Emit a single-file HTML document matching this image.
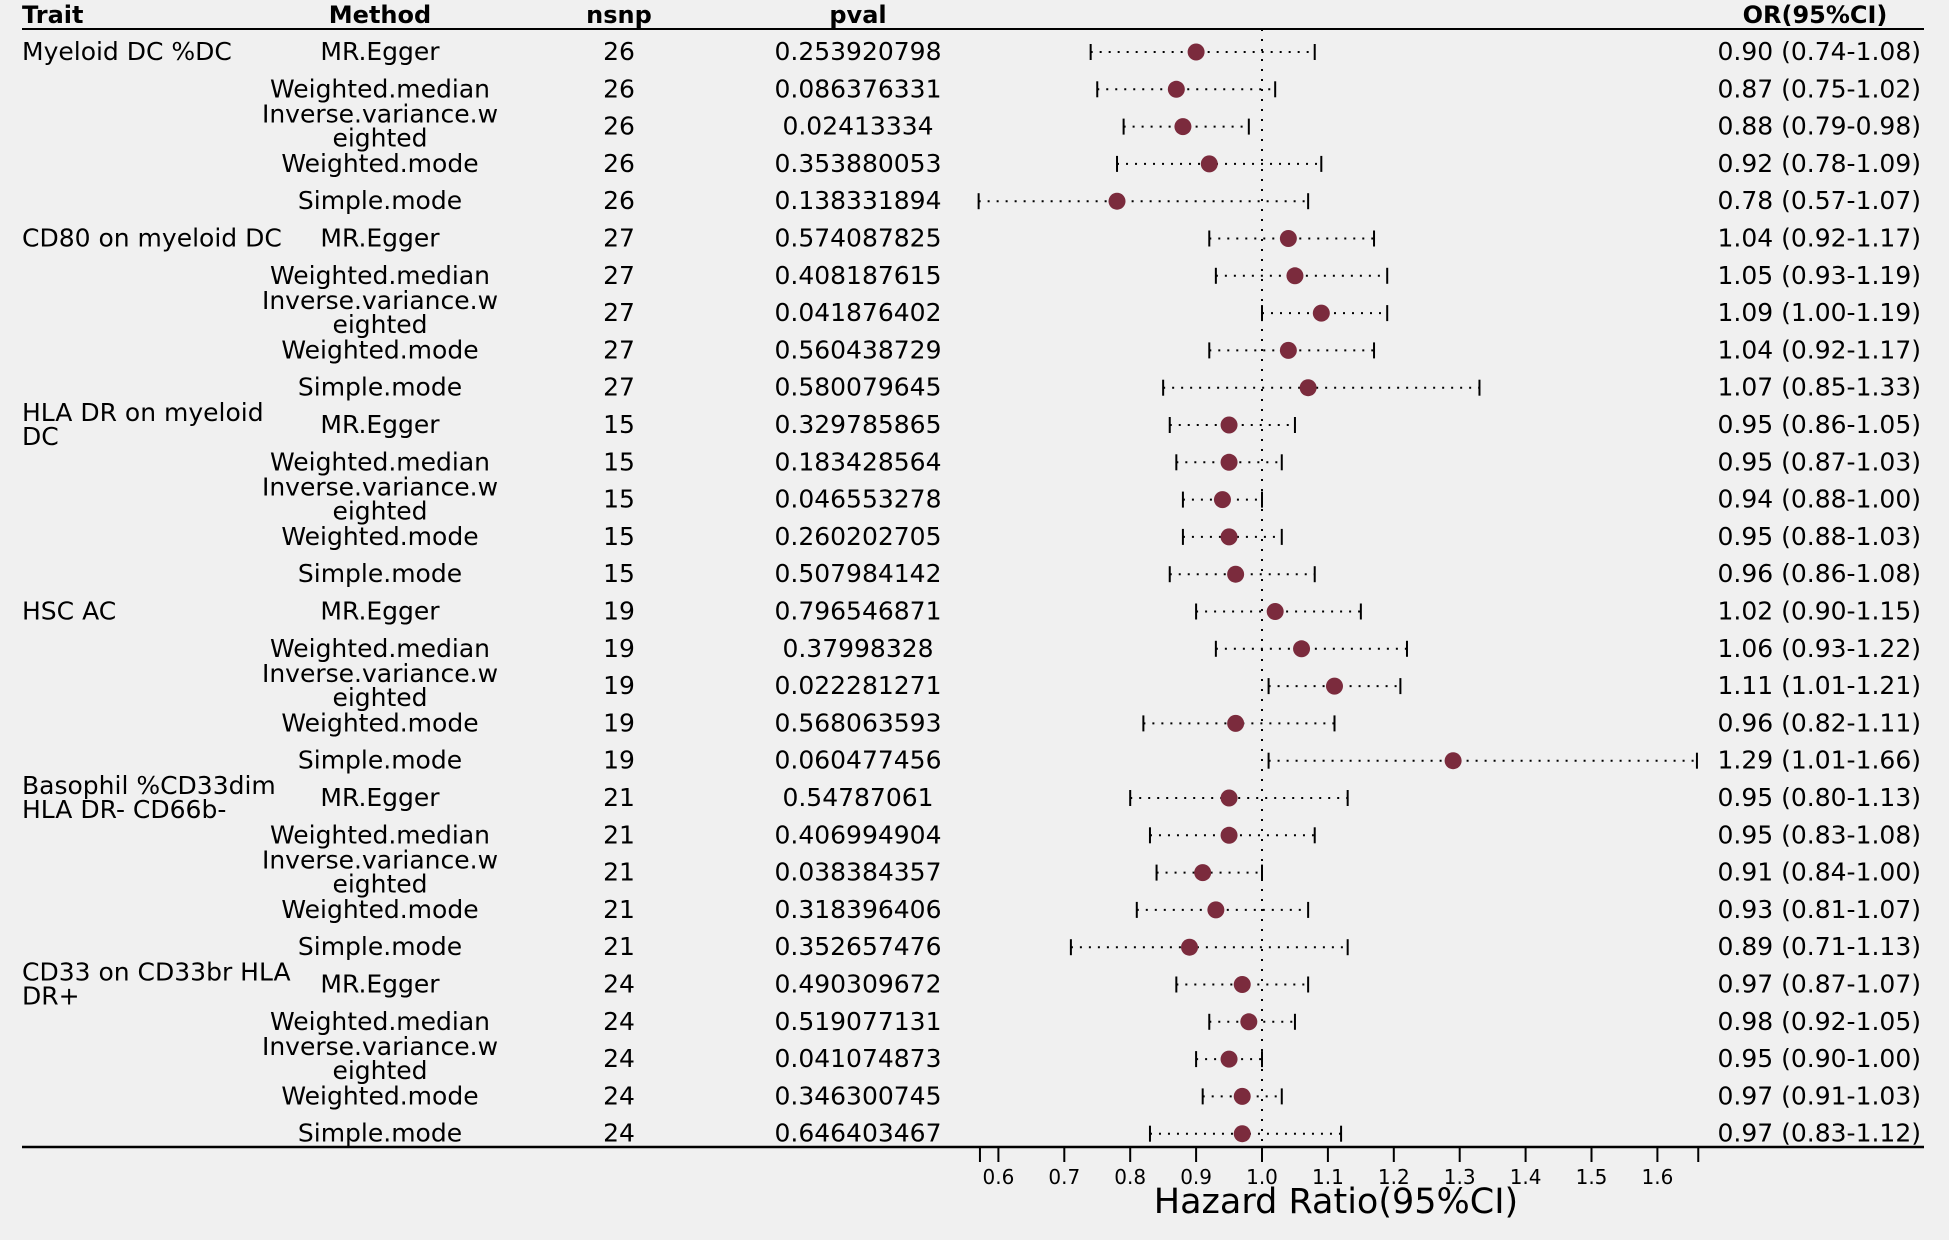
<!DOCTYPE html>
<html><head><meta charset="utf-8"><style>
html,body{margin:0;padding:0;background:#f0f0f0;}
svg{display:block;font-family:"DejaVu Sans","Liberation Sans",sans-serif;}
</style></head><body>
<svg id="chart" width="1949" height="1240" viewBox="0 0 1949 1240" xmlns="http://www.w3.org/2000/svg">
<rect width="1949" height="1240" fill="#f0f0f0"/>
<g id="hdr" font-weight="bold" font-size="24" fill="#000">
<text x="22" y="23">Trait</text>
<text x="380" y="23" text-anchor="middle">Method</text>
<text x="619" y="23" text-anchor="middle">nsnp</text>
<text x="858" y="23" text-anchor="middle">pval</text>
<text x="1815" y="23" text-anchor="middle">OR(95%CI)</text>
</g>
<line x1="22" y1="29" x2="1924" y2="29" stroke="#000" stroke-width="2"/>
<line x1="22" y1="1147" x2="1924" y2="1147" stroke="#000" stroke-width="2.5"/>
<g id="rows"></g>
<g id="axis"></g>
<text x="1336" y="1213" text-anchor="middle" font-size="35">Hazard Ratio(95%CI)</text>
</svg>
<script>
const traits = [["Myeloid DC %DC"],["CD80 on myeloid DC"],["HLA DR on myeloid","DC"],["HSC AC"],["Basophil %CD33dim","HLA DR- CD66b-"],["CD33 on CD33br HLA"," DR+"]];
const methods = ["MR.Egger","Weighted.median","Inverse.variance.w|eighted","Weighted.mode","Simple.mode"];
const nsnp = [26,27,15,19,21,24];
const pvals = ["0.253920798","0.086376331","0.02413334","0.353880053","0.138331894",
"0.574087825","0.408187615","0.041876402","0.560438729","0.580079645",
"0.329785865","0.183428564","0.046553278","0.260202705","0.507984142",
"0.796546871","0.37998328","0.022281271","0.568063593","0.060477456",
"0.54787061","0.406994904","0.038384357","0.318396406","0.352657476",
"0.490309672","0.519077131","0.041074873","0.346300745","0.646403467"];
const orv = [0.90,0.87,0.88,0.92,0.78, 1.04,1.05,1.09,1.04,1.07, 0.95,0.95,0.94,0.95,0.96, 1.02,1.06,1.11,0.96,1.29, 0.95,0.95,0.91,0.93,0.89, 0.97,0.98,0.95,0.97,0.97];
const lo = [0.74,0.75,0.79,0.78,0.57, 0.92,0.93,1.00,0.92,0.85, 0.86,0.87,0.88,0.88,0.86, 0.90,0.93,1.01,0.82,1.01, 0.80,0.83,0.84,0.81,0.71, 0.87,0.92,0.90,0.91,0.83];
const hi = [1.08,1.02,0.98,1.09,1.07, 1.17,1.19,1.19,1.17,1.33, 1.05,1.03,1.00,1.03,1.08, 1.15,1.22,1.21,1.11,1.66, 1.13,1.08,1.00,1.07,1.13, 1.07,1.05,1.00,1.03,1.12];
const ticks = [0.6,0.7,0.8,0.9,1.0,1.1,1.2,1.3,1.4,1.5,1.6];
const axisMin = 0.572, axisMax = 1.662;

const NS="http://www.w3.org/2000/svg";
const xs = v => 1262 + (v-1)*659;
const ys = i => 52 + i*37.3;
const rows=document.getElementById('rows'), axis=document.getElementById('axis');
function mk(tag, attrs, parent, txt){const e=document.createElementNS(NS,tag);for(const k in attrs)e.setAttribute(k,attrs[k]);if(txt!==undefined)e.textContent=txt;parent.appendChild(e);return e;}
const ref=mk('line',{x1:xs(1),y1:29,x2:xs(1),y2:1147,stroke:'#000','stroke-width':2,'stroke-dasharray':'2 8'},rows);


for(let i=0;i<30;i++){
  const y=ys(i), t=Math.floor(i/5), m=i%5;
  const g=mk('g',{'font-size':25,fill:'#000'},rows);
  
  
  if(m===0){
    const tl=traits[t];
    tl.forEach((s,k)=>{const e=mk('text',{x:22,y:(tl.length===1?y+8:y-4+k*24),'xml:space':'preserve'},g,s);
      
      });
  }
  const mp=methods[m].split('|');
  mp.forEach((s,k)=>{const e=mk('text',{x:380,y:(mp.length===1?y+8:y-4+k*24),'text-anchor':'middle'},g,s);
    
    });
  const n=mk('text',{x:619,y:y+8,'text-anchor':'middle'},g,String(nsnp[t]));
  
  
  const p=mk('text',{x:858,y:y+8,'text-anchor':'middle'},g,pvals[i]);
  
  
  const o=mk('text',{x:1921,y:y+8,'text-anchor':'end'},g,orv[i].toFixed(2)+' ('+lo[i].toFixed(2)+'-'+hi[i].toFixed(2)+')');
  
  
  const ci=mk('line',{x1:xs(lo[i]),y1:y,x2:xs(hi[i]),y2:y,stroke:'#000','stroke-width':2,'stroke-dasharray':'2 7'},g);
  
  
  [lo[i],hi[i]].forEach(v=>{const c=mk('line',{x1:xs(v),y1:y-8,x2:xs(v),y2:y+8,stroke:'#000','stroke-width':2},g);
    
    });
  const pt=mk('circle',{cx:xs(orv[i]),cy:y,r:8.5,fill:'#7b2b3d'},g);
  
  
}
[axisMin].concat(ticks,[axisMax]).forEach(v=>{const l=mk('line',{x1:xs(v),y1:1147,x2:xs(v),y2:1162,stroke:'#000','stroke-width':2},axis);
  
  });
ticks.forEach(v=>{const e=mk('text',{x:xs(v),y:1184,'text-anchor':'middle','font-size':20},axis,v.toFixed(1));
  
  });
</script>
</body></html>
